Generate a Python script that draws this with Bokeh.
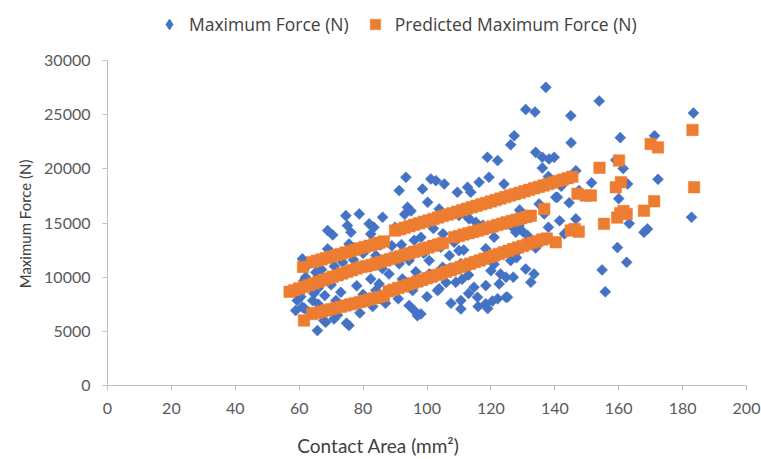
from bokeh.plotting import figure
from bokeh.models import Legend, LegendItem, FixedTicker, Range1d
from bokeh.embed import file_html
from bokeh.resources import INLINE
import numpy as np

# ---- data ----
area_measured = [
    61.0, 68.9, 68.9, 65.2, 61.5, 59.4, 58.9, 61.5, 65.7, 67.7, 64.6, 74.6, 78.8, 86.1, 70.5,
    75.1, 76.2, 81.9, 83.4, 82.4, 70.0, 75.6, 63.0, 67.0, 73.6, 71.0, 82.4, 85.0, 88.1, 60.5,
    61.0, 64.2, 66.0, 68.0, 71.5, 63.1, 68.3, 70.9, 75.6, 74.8, 72.0, 66.0, 70.0, 73.0, 78.0,
    80.0, 84.0, 77.0, 80.0, 84.0, 86.0, 62.0, 59.0, 79.0, 83.0, 87.0, 90.0, 89.0, 85.5,
    118.9, 122.1, 93.4, 101.2, 102.8, 105.4, 98.6, 91.3, 109.5, 112.7, 113.7, 116.3, 119.4, 124.1,
    100.2, 93.9, 95.0, 93.0, 103.8, 112.7, 110.0, 115.3, 117.5, 121.0, 98.1, 96.0, 108.5, 110.0,
    111.5, 94.4, 91.3, 100.7, 104.9, 107.0, 117.9, 121.0, 126.2, 100.7, 92.3, 95.5, 103.8, 109.0,
    111.0, 114.7, 118.4, 122.6, 115.8, 124.7, 122.1, 110.6, 110.6, 118.4, 94.4, 96.0, 98.1, 97.0,
    104.3, 110.6, 118.4, 120.0, 123.0, 124.7, 103.3, 116.0, 119.0, 120.5, 126.8, 128.8, 132.5, 130.0,
    113.2, 116.8, 123.0, 105.0, 92.0, 99.0, 107.0, 96.5, 113.0, 127.0, 128.0, 91.0, 100.0, 106.0,
    107.5, 113.0, 102.0,
    137.2, 130.9, 133.8, 145.0, 153.9, 127.3, 126.2, 145.1, 160.5, 134.0, 136.1, 138.2, 139.8, 136.1,
    151.5, 140.3, 144.5, 135.1, 136.7, 146.6, 127.8, 131.5, 159.6, 130.9, 133.5, 132.5, 154.8, 155.8,
    125.2, 183.4, 171.2, 159.1, 161.4, 172.3, 146.6, 162.8, 147.6, 160.0, 163.3, 169.0, 167.9, 182.8,
    162.5, 140.8, 138.0, 142.0, 135.5, 129.0, 138.0, 141.5, 143.0, 134.0, 128.0,
]
force_measured = [
    11690, 14300, 12610, 10450, 9690, 7840, 6920, 7150, 5070, 6000, 8490, 15680, 15840, 15530, 13900,
    14760, 14140, 14920, 14600, 13990, 12300, 13070, 11200, 10700, 11370, 11000, 9840, 9380, 10300, 8200,
    7220, 7840, 7500, 8300, 7840, 6760, 5840, 6150, 5540, 5750, 6500, 9000, 9300, 8600, 9200,
    8400, 8800, 11600, 12200, 12000, 10800, 10000, 8600, 6700, 7300, 7600, 14600, 12900, 13000,
    21060, 20760, 19220, 19070, 18910, 18600, 18140, 17990, 17830, 18300, 17830, 18760, 19220, 18600,
    16910, 16450, 16100, 15800, 16300, 15530, 15700, 15070, 14800, 13680, 13680, 13400, 13220, 12450,
    12500, 11530, 11230, 11530, 10910, 10800, 11530, 11200, 11530, 10300, 9840, 8760, 8920, 9530,
    9800, 9070, 9220, 9380, 8150, 8150, 8000, 7840, 7070, 7540, 7380, 6920, 6610, 6450,
    12760, 11250, 12630, 10600, 10300, 9990, 8760, 7300, 7100, 7800, 14600, 14760, 15530, 14200,
    15380, 14400, 15000, 14000, 13000, 12200, 12000, 10500, 10200, 10000, 12300, 8000, 8200, 9500,
    7600, 8500, 14500,
    27520, 25480, 25250, 24910, 26260, 23060, 22220, 22400, 22880, 21520, 21060, 20910, 21060, 20070,
    18710, 17370, 16860, 16760, 15840, 15380, 14140, 13840, 12730, 10760, 10300, 9530, 10670, 8650,
    8150, 25150, 23060, 20810, 20030, 19030, 19830, 18600, 17990, 17250, 14950, 14450, 14140, 15530,
    11370, 17370, 19300, 18400, 13300, 16200, 14600, 15200, 14000, 12700, 11800,
]

area_predicted = [
    64, 65.5, 67, 68.5, 70, 71.5, 73, 74.5, 76, 77.5, 79, 80.5, 82, 83.5, 85, 86.5,
    90, 91.5, 93, 94.5, 96, 97.5, 99, 100.5, 102, 103.5, 105, 106.5, 108, 109.5, 111, 112.5,
    114, 115.5, 117, 118.5, 120, 121.5, 123, 124.5, 126, 127.5, 129, 130.5, 132, 133.5, 135,
    136.5, 138, 139.5, 141, 142.5, 144, 145.5,
    57, 58.5, 60, 61.5, 63, 64.5, 66, 67.5, 69, 70.5, 72, 73.5, 75, 76.5, 78, 79.5,
    81, 82.5, 84, 85.5, 87, 88.5, 90, 91.5, 93, 94.5, 96, 97.5, 99, 100.5, 102, 103.5, 105,
    108.5, 110, 111.5, 113, 114.5, 116, 117.5, 119, 120.5, 122, 123.5, 125, 126.5, 128, 129.5,
    131, 132.5,
    64, 65.5, 67, 68.5, 70, 71.5, 73, 74.5, 76, 77.5, 79, 80.5, 82, 83.5, 85, 86.5,
    88, 89.5, 91, 92.5, 94, 95.5, 97, 98.5, 100, 101.5, 103, 104.5, 106, 107.5, 109, 110.5,
    112, 113.5, 115, 116.5, 118, 119.5, 121, 122.5, 124, 125.5, 127, 128.5, 130, 131.5, 133,
    134.5, 136, 137.5,
    61.2, 61.5, 136.7, 140.3, 145.0, 146.2, 147.5, 147.1, 149.7, 151.3, 154.0, 160.1, 160.7, 159.1,
    155.4, 159.5, 160.5, 162.5, 161.5, 167.9, 171.1, 170.0, 172.3, 183.1, 183.6,
]
force_predicted = [
    11380, 11510, 11640, 11760, 11890, 12020, 12140, 12270, 12400, 12530, 12660, 12780, 12910,
    13040, 13170, 13300,
    14300, 14430, 14570, 14700, 14840, 14970, 15110, 15240, 15380, 15510, 15640, 15780, 15910,
    16050, 16180, 16320, 16450, 16590, 16720, 16850, 16990, 17120, 17260, 17390, 17530, 17660,
    17790, 17930, 18060, 18200, 18330, 18460, 18600, 18730, 18870, 19000, 19140, 19270,
    8650, 8800, 8960, 9110, 9260, 9420, 9570, 9720, 9880, 10030, 10180, 10340, 10490, 10640,
    10800, 10950,
    11000, 11130, 11270, 11400, 11540, 11670, 11810, 11940, 12080, 12210, 12350, 12480, 12620,
    12750, 12890, 13020, 13160,
    13680, 13810, 13930, 14060, 14180, 14310, 14430, 14560, 14680, 14810, 14930, 15060, 15180,
    15310, 15430, 15560, 15680,
    6600, 6700, 6820, 6930, 7040, 7150, 7260, 7380, 7490, 7600, 7710, 7820, 7940, 8050, 8160, 8270,
    8700, 8850, 9000, 9150, 9300, 9450, 9600, 9750, 9900, 10050, 10200, 10350, 10500, 10650,
    10800, 10950, 11100, 11250, 11400, 11550, 11700, 11850, 12000, 12150, 12300, 12440, 12590,
    12740, 12880, 13030, 13180, 13320, 13470, 13560,
    10950, 6000, 16300, 13220, 14300, 14450, 14200, 17690, 17530, 17530, 20100, 20760, 18760, 18300,
    14920, 15500, 15900, 15840, 16100, 16140, 17000, 22300, 21980, 23590, 18300,
]

x_ticks = [0, 20, 40, 60, 80, 100, 120, 140, 160, 180, 200]
y_ticks = [0, 5000, 10000, 15000, 20000, 25000, 30000]
y_tick_labels = ["0", "5000", "10000", "15000", "20000", "25000", "30000"]
series_names = ["Maximum Force (N)", "Predicted Maximum Force (N)"]
x_title = "Contact Area (mm²)"
y_title = "Maximum Force (N)"

BLUE = "#4472C4"
ORANGE = "#ED7D31"
AXIS_GREY = "#BFBFBF"
TEXT_GREY = "#595959"
TITLE_GREY = "#404040"
NBSP = "\u00a0"

# Layout: the frame reaches up to the top margin so the legend can sit inside it;
# the y axis itself only spans 0..30000 (325 px), leaving 52 px of headroom.
Y_MAX = y_ticks[-1]
AXIS_PX = 325
HEAD_PX = 52
y_end = Y_MAX * (AXIS_PX + HEAD_PX) / AXIS_PX

p = figure(width=761, height=459, output_backend="svg", toolbar_location=None,
           x_range=Range1d(0, 200), y_range=Range1d(0, y_end),
           min_border_left=107, min_border_right=15, min_border_top=8, min_border_bottom=74)

r1 = p.scatter(area_measured, force_measured, marker="square", angle=np.pi / 4,
               size=7.8, fill_color=BLUE, line_color=BLUE, line_width=0.5)
r2 = p.scatter(area_predicted, force_predicted, marker="square",
               size=11.5, fill_color=ORANGE, line_color=ORANGE, line_width=0.5)
# legend key for the measured series: the legend does not rotate markers, so use a
# diamond marker drawn at zero size in the plot itself
r1_key = p.scatter(area_measured, force_measured, marker="diamond", size=0,
                   fill_color=BLUE, line_color=BLUE)

p.grid.visible = False
p.outline_line_color = None

for ax in (p.xaxis, p.yaxis):
    ax.axis_line_color = AXIS_GREY
    ax.major_tick_line_color = AXIS_GREY
    ax.minor_tick_line_color = None
    ax.major_tick_out = 5
    ax.major_tick_in = 0
    ax.major_label_text_font = "Lato"
    ax.major_label_text_font_size = "16px"
    ax.major_label_text_color = TEXT_GREY
    ax.major_label_standoff = 12
    ax.axis_label_text_font = "Lato"
    ax.axis_label_text_font_style = "normal"
    ax.axis_label_text_color = TITLE_GREY

p.xaxis.ticker = FixedTicker(ticks=x_ticks)
p.yaxis.ticker = FixedTicker(ticks=y_ticks)
p.yaxis.bounds = (0, Y_MAX)
p.yaxis.major_label_overrides = {t: s for t, s in zip(y_ticks, y_tick_labels)}

# axis titles are centred on the frame in Bokeh; no-break-space padding moves the
# visible text to where the reference puts it
p.yaxis.axis_label = y_title + NBSP * 14
p.yaxis.axis_label_text_font_size = "15px"
p.yaxis.axis_label_standoff = 7

p.xaxis.axis_label = x_title + NBSP * 20
p.xaxis.axis_label_text_font_size = "19px"
p.xaxis.major_label_text_line_height = 1.0
p.xaxis.axis_label_text_line_height = 1.0
p.xaxis.axis_label_standoff = 17

legend = Legend(items=[LegendItem(label=series_names[0], renderers=[r1_key]),
                       LegendItem(label=series_names[1], renderers=[r2])],
                orientation="horizontal", location=(49, 348),
                border_line_color=None, background_fill_alpha=0,
                padding=2, margin=0, spacing=13, label_standoff=7,
                glyph_width=26, glyph_height=26, label_height=20,
                label_text_font="Open Sans", label_text_font_size="17.5px",
                label_text_color=TITLE_GREY)
p.add_layout(legend)

open("out.html", "w").write(file_html(p, INLINE))
